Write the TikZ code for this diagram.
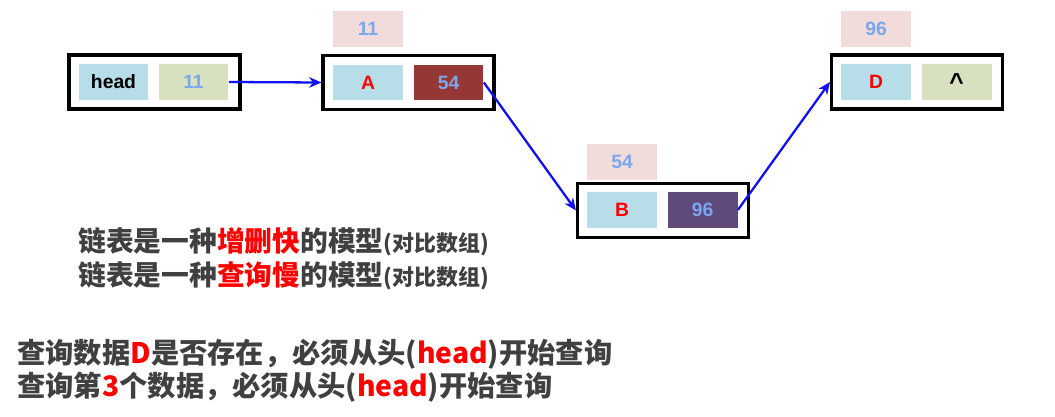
\documentclass[tikz,border=0pt]{standalone}
\usepackage{fontspec}
\setmainfont{Liberation Sans}
\newfontfamily\cjk{Noto Sans CJK SC}
\usetikzlibrary{arrows.meta}
\definecolor{cellblue}{HTML}{B7DDE8}
\definecolor{cellolive}{HTML}{D7E0BF}
\definecolor{celldred}{HTML}{953735}
\definecolor{cellpurp}{HTML}{604A7B}
\definecolor{lblpink}{HTML}{F2DCDB}
\definecolor{numblue}{HTML}{7BA7EE}
\definecolor{txtgrey}{HTML}{404040}
\definecolor{arrblue}{HTML}{1010F0}
\tikzset{
 cell/.style={minimum width=1.4cm,minimum height=0.72cm,inner sep=0pt,font=\bfseries\fontsize{11}{13}\selectfont},
 outer/.style={draw=black,line width=1.8pt,minimum width=3.42cm,minimum height=1.08cm,inner sep=0pt},
 link/.style={draw=arrblue,line width=1.3pt,-{Stealth[length=7pt,width=6pt]}},
 line1/.style={anchor=west,inner sep=0pt,text=txtgrey,font=\cjk\bfseries\fontsize{15.8}{18}\selectfont},
 line2/.style={anchor=west,inner sep=0pt,text=txtgrey,font=\cjk\bfseries\fontsize{16.1}{18}\selectfont}
}
\begin{document}
\begin{tikzpicture}[x=0.02cm,y=-0.02cm]
\useasboundingbox[fill=white] (0,0) rectangle (1055,416);
% head
\node[outer] (hbox) at (154.5,82) {};
\node[cell,fill=cellblue,text=black] (head) at (113.5,82) {head};
\node[cell,fill=cellolive,text=numblue] (hnext) at (193.5,82) {11};
% A
\node[cell,fill=lblpink,text=numblue] (la) at (368,29) {11};
\node[outer] (abox) at (408.5,82.5) {};
\node[cell,fill=cellblue,text=red] (a) at (368,82.5) {A};
\node[cell,fill=celldred,text=numblue] (anext) at (448.5,82.5) {54};
% B
\node[cell,fill=lblpink,text=numblue] (lb) at (622,161.5) {54};
\node[outer] (bbox) at (663,210.5) {};
\node[cell,fill=cellblue,text=red] (b) at (622,210) {B};
\node[cell,fill=cellpurp,text=numblue] (bnext) at (702.5,210) {96};
% D
\node[cell,fill=lblpink,text=numblue] (ld) at (876,29) {96};
\node[outer] (dbox) at (917,82) {};
\node[cell,fill=cellblue,text=red] (d) at (876,82) {D};
\node[cell,fill=cellolive,text=black,font=\bfseries\fontsize{14}{15}\selectfont] (dnext) at (956.5,82) {\^{}};
% links
\draw[link] (hnext.east) -- (abox.west);
\draw[link] (anext.east) -- (bbox.west);
\draw[link] (bnext.east) -- (dbox.west);
% texts
\node[line1] (t1) at (78,242) {链表是一种\textcolor{red}{增删快}的模型{\fontsize{12.5}{14}\selectfont(对比数组)}};
\node[line1] (t2) at (78,276) {链表是一种\textcolor{red}{查询慢}的模型{\fontsize{12.5}{14}\selectfont(对比数组)}};
\node[line2] (t3) at (17,354) {查询数据\textcolor{red}{D}是否存在，必须从头(\textcolor{red}{head})开始查询};
\node[line2] (t4) at (17,387) {查询第\textcolor{red}{3}个数据，必须从头(\textcolor{red}{head})开始查询};
\end{tikzpicture}
\end{document}
